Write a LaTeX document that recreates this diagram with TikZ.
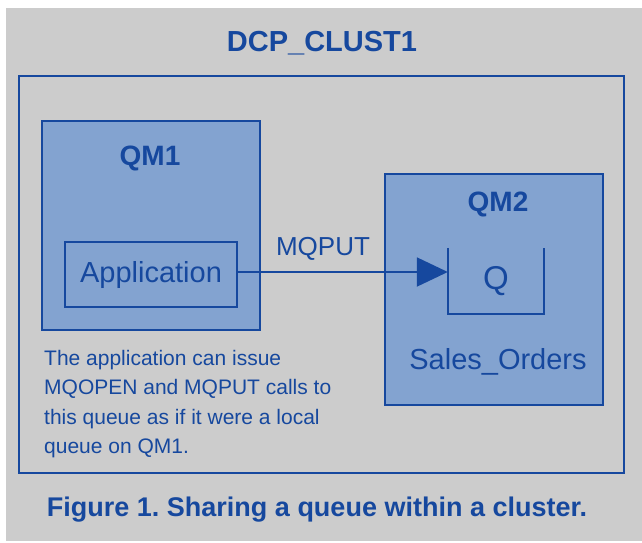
\documentclass[tikz,border=0pt]{standalone}
\usepackage{fontspec}
\setmainfont{Liberation Sans}
\usepackage{tikz}
\usetikzlibrary{positioning, arrows.meta, calc}
\definecolor{mqblue}{RGB}{22,72,158}
\definecolor{qmfill}{RGB}{131,163,208}
\definecolor{panelgray}{RGB}{204,204,204}
\tikzset{
  frame/.style={rectangle, draw=mqblue, line width=2pt, inner sep=0pt},
  qmbox/.style={frame, fill=qmfill},
  bluetext/.style={text=mqblue, inner sep=0pt},
  arrow/.style={draw=mqblue, line width=2pt, -{Triangle[length=31pt, width=29pt]}}
}
\frenchspacing

\begin{document}
\begin{tikzpicture}[x=1pt, y=-1pt]

            % Fondo gris
            \useasboundingbox (0,0) rectangle (642,542);
            \fill[panelgray] (6,8) rectangle (642,541);

            % Cluster
            \node[bluetext, font=\bfseries\fontsize{29}{34}\selectfont] (title) at (322,43) {DCP\_CLUST1};
            \node[frame, minimum width=605pt, minimum height=397pt] (cluster) at (321.5,274.5) {};

            % Gestores de colas
            \node[qmbox, minimum width=218pt, minimum height=209pt] (qmone) at (151,225.5) {};
            \node[qmbox, minimum width=218pt, minimum height=231pt] (qmtwo) at (494,289.5) {};
            \node[bluetext, font=\bfseries\fontsize{28}{34}\selectfont] (qmonelabel) at (150,158) {QM1};
            \node[bluetext, font=\bfseries\fontsize{28}{34}\selectfont] (qmtwolabel) at (498,204) {QM2};

            % Aplicacion y cola
            \node[frame, minimum width=172pt, minimum height=65pt, text=mqblue, font=\fontsize{29}{34}\selectfont] (app) at (151,274.5) {Application};
            \node[minimum width=96pt, minimum height=66pt, inner sep=0pt, text=mqblue, font=\fontsize{33}{38}\selectfont] (qbox) at (496,281) {Q};
            \draw[mqblue, line width=2pt] (qbox.north west) -- (qbox.south west) -- (qbox.south east) -- (qbox.north east);
            \node[bluetext, font=\fontsize{29}{34}\selectfont] (qname) at (498,362) {Sales\_Orders};

            % MQPUT
            \draw[arrow] (app.east |- 0,272) -- (qbox.west |- 0,272);
            \node[bluetext, font=\fontsize{26}{30}\selectfont] (putlabel) at (323,249) {MQPUT};

            % Nota
            \node[bluetext, anchor=north west, align=left, font=\fontsize{21}{29.5}\selectfont] (note) at (44,350) {The application can issue\\MQOPEN and MQPUT calls to\\this queue as if it were a local\\queue on QM1.};

            % Pie de figura
            \node[bluetext, font=\bfseries\fontsize{27}{31}\selectfont] (caption) at (317,510) {Figure 1. Sharing a queue within a cluster.};

\end{tikzpicture}
\end{document}
